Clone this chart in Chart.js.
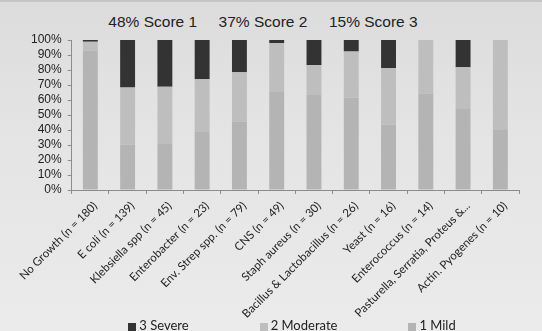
<!DOCTYPE html>
<html>
<head>
<meta charset="utf-8">
<script src="https://cdn.jsdelivr.net/npm/chart.js@4"></script>
<style>
  body { margin: 0; }
  #wrap {
    position: relative; width: 542px; height: 331px; overflow: hidden;
    background: linear-gradient(180deg, #dcdcdc 0%, #e4e4e4 40%, #ebebeb 100%);
    border-top: 2px solid #c4c4c4; box-sizing: border-box;
  }
  #title {
    position: absolute; left: 0; width: 526px; top: 11px; text-align: center;
    font: 15.5px "Liberation Sans", Arial, sans-serif; color: #222; white-space: pre;
  }
  #legend {
    position: absolute; left: 65px; width: 454px; top: 315px;
    display: flex; justify-content: center; gap: 71px;
    font: 13px Lato, sans-serif; color: #222;
  }
  #legend span.box { display: inline-block; width: 8px; height: 8px; margin-right: 3px; vertical-align: -0.5px; }
  canvas { position: absolute; left: 0; top: -2px; }
</style>
</head>
<body>
<div id="wrap">
  <div id="title">48% Score 1     37% Score 2     15% Score 3</div>
  <canvas id="chart" width="542" height="331"></canvas>
  <div id="legend"></div>
</div>
<script>
// categories (organism groups) and percentage of cases per severity score
const categories = [
  'No Growth (n = 180)', 'E coli (n = 139)', 'Klebsiella spp (n = 45)', 'Enterobacter (n = 23)',
  'Env. Strep spp. (n = 79)', 'CNS (n = 49)', 'Staph aureus (n = 30)',
  'Bacillus & Lactobacillus (n = 26)', 'Yeast (n = 16)', 'Enterococcus (n = 14)',
  'Pasturella, Serratia, Proteus &...', 'Actin. Pyogenes (n = 10)'
];
const mildValues     = [92.8, 30.2, 31.1, 39.1, 45.6, 65.3, 63.3, 61.5, 43.7, 64.3, 54.5, 40.0];
const moderateValues = [ 6.1, 38.1, 37.8, 34.8, 32.9, 32.7, 20.0, 30.8, 37.5, 35.7, 27.3, 60.0];
const severeValues   = [ 1.1, 31.7, 31.1, 26.1, 21.5,  2.0, 16.7,  7.7, 18.8,  0.0, 18.2,  0.0];
const yTicks = [0, 10, 20, 30, 40, 50, 60, 70, 80, 90, 100];

const ctx = document.getElementById('chart').getContext('2d');
const chart = new Chart(ctx, {
    type: 'bar',
    data: {
        labels: categories,
        datasets: [
            { label: '1 Mild', data: mildValues, backgroundColor: '#b4b4b4' },
            { label: '2 Moderate', data: moderateValues, backgroundColor: '#bebebe' },
            { label: '3 Severe', data: severeValues, backgroundColor: '#333333' }
        ]
    },
    options: {
        responsive: false,
        animation: false,
        devicePixelRatio: 1,
        layout: { padding: { left: 25, right: 23, top: 40, bottom: 0 } },
        datasets: { bar: { barPercentage: 0.4, categoryPercentage: 1, borderWidth: 0 } },
        plugins: {
            legend: { display: false },
            title: { display: false },
            tooltip: { enabled: false }
        },
        scales: {
            x: {
                stacked: true,
                // fixed height so the plot bottom sits where the original's does
                afterFit: axis => { axis.height = 141; },
                grid: { drawOnChartArea: false, tickLength: 4, color: '#8c8c8c' },
                border: { color: '#8c8c8c' },
                ticks: {
                    minRotation: 45, maxRotation: 45, padding: 5, labelOffset: 5,
                    color: '#222', font: { family: 'Lato', size: 11.5 }
                }
            },
            y: {
                stacked: true,
                min: 0, max: 100,
                afterBuildTicks: axis => { axis.ticks = yTicks.map(v => ({ value: v })); },
                grid: { drawOnChartArea: false, tickLength: 4, color: '#8c8c8c' },
                border: { color: '#8c8c8c' },
                ticks: {
                    autoSkip: false,
                    padding: 6, color: '#222',
                    font: { family: 'Liberation Sans', size: 12 },
                    callback: v => v + '%'
                }
            }
        }
    }
});

// legend drawn as html, severe first like the original
const legend = document.getElementById('legend');
chart.data.datasets.slice().reverse().forEach(ds => {
    const item = document.createElement('div');
    item.innerHTML = '<span class="box" style="background:' + ds.backgroundColor + '"></span>' + ds.label;
    legend.appendChild(item);
});
</script>
</body>
</html>
